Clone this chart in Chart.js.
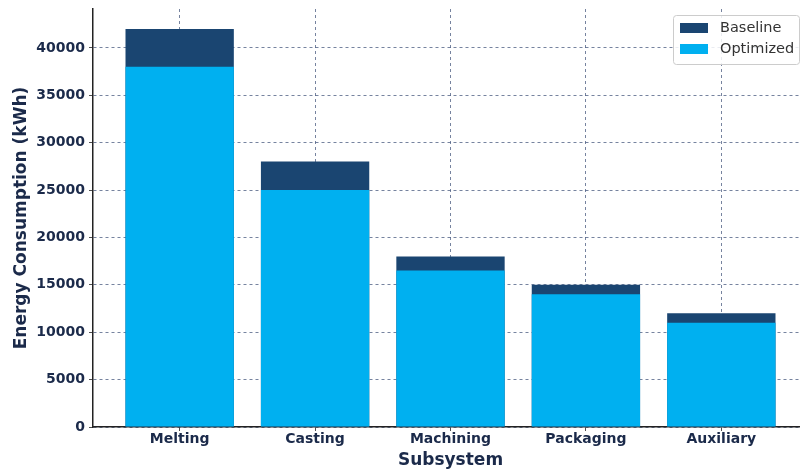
<!DOCTYPE html>
<html>
<head>
<meta charset="utf-8">
<script src="https://cdn.jsdelivr.net/npm/chart.js@4"></script>
<style>
  body { margin: 0; background: #fff; }
  #wrap { width: 800px; height: 470px; overflow: hidden; }
</style>
</head>
<body>
<div id="wrap"><canvas id="chart" width="808" height="470"></canvas></div>
<script>
const categories = ['Melting', 'Casting', 'Machining', 'Packaging', 'Auxiliary'];
const baseline = [42000, 28000, 18000, 15000, 12000];
const optimized = [38000, 25000, 16500, 14000, 11000];
const yTicks = [0, 5000, 10000, 15000, 20000, 25000, 30000, 35000, 40000];

const navy = '#1b2a4a';
const gridColor = 'rgba(40, 60, 105, 0.8)';

// legend drawn inside the plot, top right
const insideLegend = {
  id: 'insideLegend',
  afterDraw(chart) {
    const ctx = chart.ctx;
    const x = 673, y = 15, w = 126, h = 49;
    ctx.save();
    ctx.fillStyle = 'rgba(255,255,255,0.85)';
    ctx.strokeStyle = '#cccccc';
    ctx.lineWidth = 1;
    ctx.beginPath();
    ctx.roundRect(x + 0.5, y + 0.5, w, h, 3);
    ctx.fill();
    ctx.stroke();
    ctx.font = '14.5px "DejaVu Sans"';
    ctx.textBaseline = 'middle';
    chart.data.datasets.forEach((ds, i) => {
      const ly = y + 13 + i * 21;
      ctx.fillStyle = ds.backgroundColor;
      ctx.fillRect(x + 7, ly - 5, 28, 10);
      ctx.fillStyle = '#333333';
      ctx.fillText(ds.label, x + 47, ly);
    });
    ctx.restore();
  }
};

new Chart(document.getElementById('chart'), {
  type: 'bar',
  data: {
    datasets: [
      {
        label: 'Baseline',
        data: baseline.map((v, i) => ({ x: i, y: v })),
        backgroundColor: '#1a4571',
        order: 2
      },
      {
        label: 'Optimized',
        data: optimized.map((v, i) => ({ x: i, y: v })),
        backgroundColor: '#00b0f0',
        order: 1
      }
    ]
  },
  options: {
    responsive: false,
    animation: false,
    grouped: false,
    barPercentage: 1,
    categoryPercentage: 0.8,
    layout: { padding: { top: 9, left: 0, right: 0, bottom: 0 } },
    plugins: {
      legend: { display: false },
      tooltip: { enabled: false }
    },
    scales: {
      x: {
        type: 'linear',
        min: -0.64,
        max: 4.64,
        offset: false,
        z: 1,
        afterBuildTicks: s => { s.ticks = categories.map((c, i) => ({ value: i })); },
        afterFit: s => { s.height = 43; s.paddingLeft = 0; s.paddingRight = 0; },
        ticks: {
          autoSkip: false,
          maxRotation: 0,
          padding: 0,
          color: navy,
          font: { family: 'DejaVu Sans', size: 14, weight: 'bold' },
          callback: v => categories[v]
        },
        grid: { offset: false, color: gridColor, lineWidth: 0.8, tickColor: '#222', tickLength: 4 },
        border: { display: true, color: '#222', width: 1.5, dash: [3, 3] },
        title: {
          display: true,
          text: 'Subsystem',
          color: navy,
          padding: { top: 0, bottom: -1 },
          font: { family: 'DejaVu Sans', size: 17, weight: 'bold' }
        }
      },
      y: {
        min: 0,
        max: 44100,
        z: 1,
        afterBuildTicks: s => { s.ticks = yTicks.map(v => ({ value: v })); },
        afterFit: s => { s.width = 93; s.paddingTop = 0; s.paddingBottom = 0; },
        ticks: {
          padding: 4,
          color: navy,
          font: { family: 'DejaVu Sans', size: 14, weight: 'bold' },
          callback: v => String(v)
        },
        grid: { color: gridColor, lineWidth: 0.8, tickColor: '#222', tickLength: 4 },
        border: { display: true, color: '#222', width: 1.5, dash: [3, 3] },
        title: {
          display: true,
          text: 'Energy Consumption (kWh)',
          color: navy,
          padding: { top: 11, bottom: 0 },
          font: { family: 'DejaVu Sans', size: 17, weight: 'bold' }
        }
      }
    }
  },
  plugins: [insideLegend]
});
</script>
</body>
</html>
